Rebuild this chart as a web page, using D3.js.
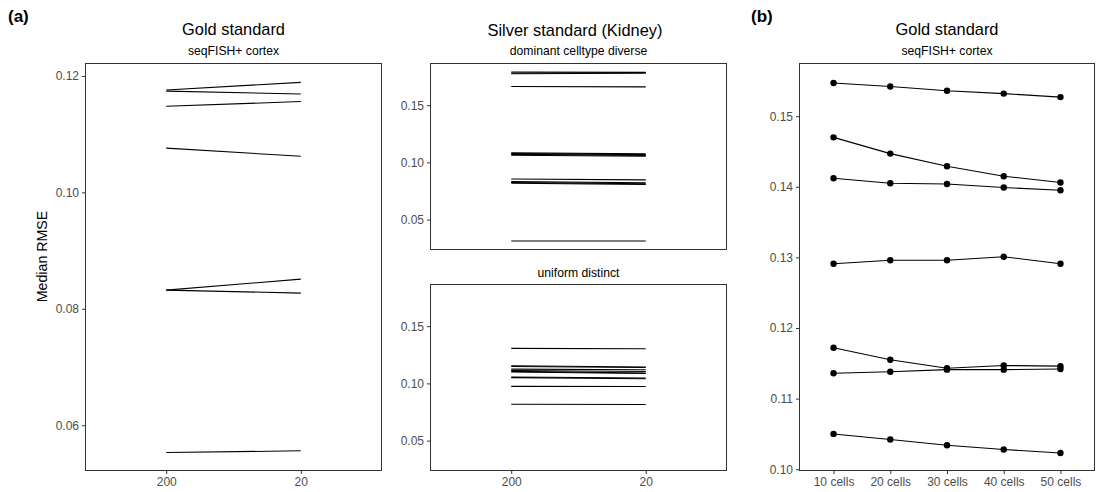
<!DOCTYPE html>
<html><head><meta charset="utf-8">
<script src="https://cdn.jsdelivr.net/npm/d3@7"></script>
<style>body{margin:0;background:#fff}svg{display:block}text{font-family:"Liberation Sans",Arial,sans-serif}</style>
</head><body><svg id="c" width="1099" height="492"></svg>
<script>
// ---- data ----
const sizeCats = ["200", "20"];
const goldLines = [
  [0.1176, 0.1189], [0.1174, 0.1169], [0.1148, 0.1156],
  [0.1076, 0.1062], [0.0832, 0.0851], [0.0832, 0.0827], [0.0553, 0.0556]
];
const silverDiverseLines = [
  [0.1790, 0.1788], [0.1781, 0.1785], [0.1774, 0.1779], [0.1663, 0.1660],
  [0.1083, 0.1076], [0.1078, 0.1068], [0.1070, 0.1061], [0.1062, 0.1054],
  [0.0855, 0.0847], [0.0832, 0.0822], [0.0825, 0.0813], [0.0818, 0.0808],
  [0.0313, 0.0313]
];
const silverUniformLines = [
  [0.1306, 0.1303], [0.1154, 0.1143], [0.1147, 0.1139], [0.1125, 0.1119],
  [0.1113, 0.1104], [0.1105, 0.1091], [0.1099, 0.1086], [0.1056, 0.1047],
  [0.1050, 0.1040], [0.0974, 0.0973], [0.0818, 0.0815]
];
const cellCats = ["10 cells", "20 cells", "30 cells", "40 cells", "50 cells"];
const cellSeries = [
  [0.1547, 0.1542, 0.1536, 0.1532, 0.1527],
  [0.1470, 0.1447, 0.1429, 0.1415, 0.1406],
  [0.1412, 0.1405, 0.1404, 0.1399, 0.1395],
  [0.1291, 0.1296, 0.1296, 0.1301, 0.1291],
  [0.1172, 0.1155, 0.1143, 0.1147, 0.1146],
  [0.1136, 0.1138, 0.1141, 0.1141, 0.1142],
  [0.1050, 0.1042, 0.1034, 0.1028, 0.1023]
];
const goldTicks = [0.06, 0.08, 0.10, 0.12];
const silverTicks = [0.05, 0.10, 0.15];
const cellTicks = [0.10, 0.11, 0.12, 0.13, 0.14, 0.15];

// ---- drawing ----
const svg = d3.select("#c");
const FONT = '"Liberation Sans",Arial,sans-serif';
const frameCol = "#333333", tickTextCol = "#4d4d4d";
const TICK_FS = "12px";

function panel(opts) {
  const {x0, x1, y0, y1, cats, ydom, ticks, fmt, showX} = opts;
  const x = d3.scalePoint().domain(cats).range([x0, x1]).padding(0.6);
  const y = d3.scaleLinear().domain(ydom).range([y1, y0]);
  const g = svg.append("g");
  const ya = g.append("g").attr("transform", `translate(${x0},0)`)
    .call(d3.axisLeft(y).tickValues(ticks).tickFormat(d3.format(fmt)).tickSize(3.5).tickPadding(3));
  ya.select(".domain").remove();
  ya.selectAll("line").attr("stroke", frameCol);
  ya.selectAll("text").attr("fill", tickTextCol).style("font-size", TICK_FS).style("font-family", FONT);
  if (showX) {
    const xa = g.append("g").attr("transform", `translate(0,${y1})`)
      .call(d3.axisBottom(x).tickSize(3.5).tickPadding(3.5));
    xa.select(".domain").remove();
    xa.selectAll("line").attr("stroke", frameCol);
    xa.selectAll("text").attr("fill", tickTextCol).style("font-size", TICK_FS).style("font-family", FONT);
  }
  g.append("rect").attr("x", x0).attr("y", y0).attr("width", x1 - x0).attr("height", y1 - y0)
    .attr("fill", "none").attr("stroke", frameCol).attr("stroke-width", 1);
  return {g, x, y};
}

function pairLines(p, data) {
  const line = d3.line().x((d, i) => p.x(sizeCats[i])).y(d => p.y(d));
  p.g.selectAll("path.l").data(data).enter().append("path").attr("class", "l")
    .attr("d", line).attr("fill", "none").attr("stroke", "#000").attr("stroke-width", 1.1);
}

function text(x, y, s, size, opts = {}) {
  svg.append("text").attr("x", x).attr("y", y).text(s)
    .attr("text-anchor", opts.anchor || "middle").attr("fill", opts.fill || "#000")
    .style("font-size", size + "px").style("font-weight", opts.bold ? "bold" : "normal")
    .attr("transform", opts.rot ? `rotate(-90,${x},${y})` : null);
}

// Panel 1
const p1 = panel({x0: 85.5, x1: 381.5, y0: 63.5, y1: 470.5, cats: sizeCats,
  ydom: [0.05222, 0.12214], ticks: goldTicks, fmt: ".2f", showX: true});
pairLines(p1, goldLines);

// Panel 2 top & bottom
const sdom = [0.0239, 0.1864];
const p2a = panel({x0: 430.5, x1: 726.5, y0: 63.5, y1: 249.5, cats: sizeCats,
  ydom: sdom, ticks: silverTicks, fmt: ".2f", showX: false});
pairLines(p2a, silverDiverseLines);
const p2b = panel({x0: 430.5, x1: 726.5, y0: 284.5, y1: 470.5, cats: sizeCats,
  ydom: sdom, ticks: silverTicks, fmt: ".2f", showX: true});
pairLines(p2b, silverUniformLines);

// Panel 3
const p3 = panel({x0: 799.5, x1: 1094.5, y0: 63.5, y1: 470.5, cats: cellCats,
  ydom: [0.09982, 0.15746], ticks: cellTicks, fmt: ".2f", showX: true});
const l3 = d3.line().x((d, i) => p3.x(cellCats[i])).y(d => p3.y(d));
p3.g.selectAll("path.s").data(cellSeries).enter().append("path").attr("class", "s")
  .attr("d", l3).attr("fill", "none").attr("stroke", "#000").attr("stroke-width", 1.1);
cellSeries.forEach(s => {
  p3.g.selectAll(null).data(s).enter().append("circle")
    .attr("cx", (d, i) => p3.x(cellCats[i])).attr("cy", d => p3.y(d)).attr("r", 3.2).attr("fill", "#000");
});

// Titles and labels
text(8, 22, "(a)", 17, {anchor: "start", bold: true});
text(751, 22, "(b)", 17, {anchor: "start", bold: true});
text(233.5, 35, "Gold standard", 16.4);
text(233.5, 55, "seqFISH+ cortex", 12.2);
text(575, 36, "Silver standard (Kidney)", 16.4);
text(578.5, 55, "dominant celltype diverse", 12.2);
text(578.5, 277, "uniform distinct", 12.2);
text(947, 35, "Gold standard", 16.4);
text(947, 55, "seqFISH+ cortex", 12.2);
text(46.5, 256.5, "Median RMSE", 14.2, {rot: true});
</script></body></html>
